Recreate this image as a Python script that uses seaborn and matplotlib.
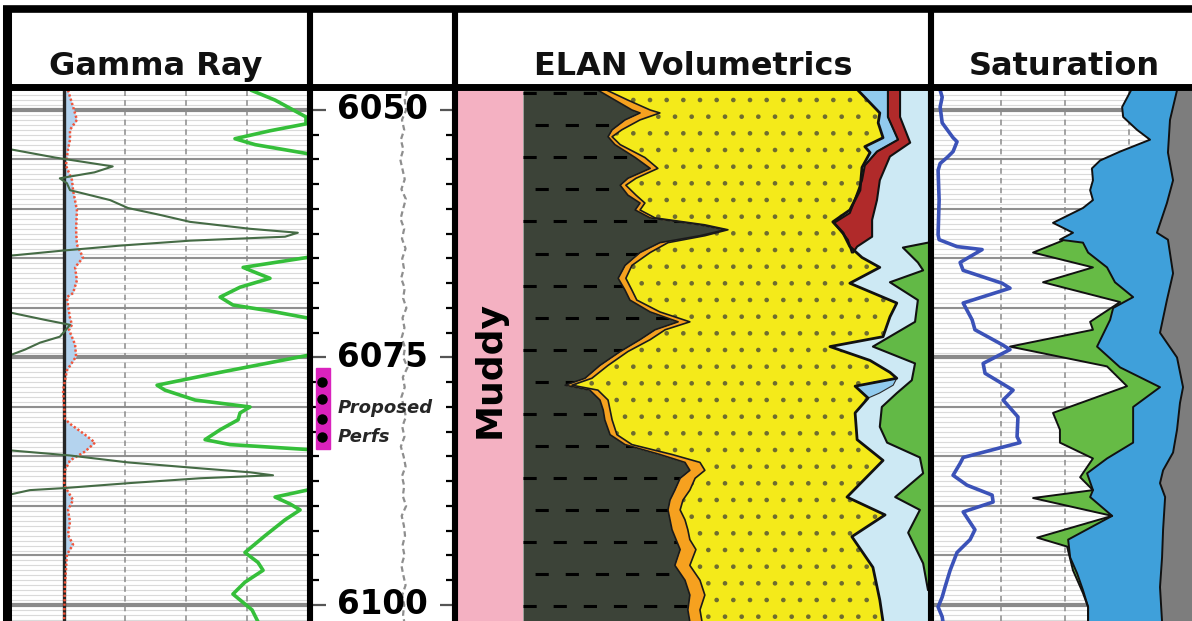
import numpy as np
import matplotlib
matplotlib.use("Agg")
import matplotlib.pyplot as plt
import seaborn as sns

# ------------------------------------------------------------------ data
DEPTH_TOP, DEPTH_BASE = 6047.98, 6101.62
DEPTH_LABELS = [6050, 6075, 6100]
TRACK_TITLES = ["Gamma Ray", "ELAN Volumetrics", "Saturation"]
ZONE_NAME = "Muddy"
PERF_TOP, PERF_BASE = 6076.1, 6084.2
PERF_SHOTS = [6077.5, 6079.2, 6081.2, 6083.0]
PERF_LABEL = ["Proposed", "Perfs"]

# Gamma ray track (API, scale 4-149.5)
gr_depth = [6048.0, 6050.5, 6050.9, 6051.4, 6053.4, 6054.0, 6054.8, 6055.7, 6056.3, 6056.9,
            6057.4, 6058.1, 6059.1, 6059.9, 6060.6, 6061.3, 6062.0, 6062.4, 6062.8, 6063.2,
            6063.7, 6064.2, 6064.7, 6065.2, 6069.9, 6070.5, 6071.2, 6071.7, 6072.2, 6072.9,
            6073.5, 6074.2, 6074.7, 6075.2, 6083.9, 6084.4, 6084.9, 6085.6, 6086.2, 6086.6,
            6086.9, 6087.2, 6087.7, 6088.2, 6088.4, 6088.8, 6089.3, 6101.7]
gr_value = [-10, -10, 4, -10, -10, 4.5, 25.6, 54, 45, 28,
            31.5, 33, 52.7, 61.5, 77.3, 92, 121.5, 145, 138.7, 92,
            57.6, 29.6, 4.5, -10, -10, 4.5, 20.7, 33, 31, 28,
            18.3, 10.9, 4.5, -10, -10, 4.5, 33, 61.5, 97, 121.5,
            132.8, 97, 61.5, 29.6, 13.3, 4.5, -10, -10]

gr2_depth = [6048.0, 6049.0, 6050.7, 6051.4, 6052.1, 6052.9, 6053.5, 6054.4, 6055.1, 6064.1,
             6064.9, 6065.9, 6066.4, 6067.0, 6067.9, 6068.9, 6069.7, 6070.3, 6071.0, 6071.7,
             6074.2, 6074.8, 6076.5, 6077.8, 6078.3, 6079.3, 6080.0, 6080.6, 6081.3, 6082.3,
             6083.3, 6083.8, 6084.3, 6084.9, 6087.8, 6088.4, 6089.1, 6089.8, 6090.4, 6091.4,
             6093.0, 6094.7, 6095.7, 6096.5, 6097.7, 6098.9, 6100.5, 6101.7]
gr2_value = [122, 133.8, 149, 149, 131.3, 114.1, 124, 149.5, 165, 165,
             149.5, 118.1, 124, 131.3, 116.6, 106.8, 113.1, 131.3, 149.5, 165,
             165, 149.5, 106.8, 75.8, 79.7, 94.5, 121.5, 116.6, 115.6, 106.8,
             99.4, 111.7, 150, 165, 165, 149.5, 133.8, 141.2, 146.1, 138.7,
             128.9, 119, 125.4, 127.9, 119, 113.1, 122.5, 125.4]

pe_depth = [6048.0, 6049.0, 6050.0, 6051.0, 6052.0, 6053.0, 6054.0, 6055.6, 6057.1, 6058.1,
            6060.1, 6062.1, 6063.6, 6064.9, 6065.9, 6067.2, 6068.5, 6068.9, 6069.7, 6071.0,
            6071.7, 6072.2, 6073.7, 6074.9, 6076.3, 6078.3, 6081.2, 6081.7, 6082.8, 6083.6,
            6084.5, 6085.4, 6086.4, 6087.9, 6089.4, 6090.4, 6091.6, 6092.9, 6093.9, 6094.9,
            6096.5, 6098.0, 6101.7]
pe_value = [32, 33.5, 35, 36.4, 33, 33, 32, 31, 34, 34.5,
            36.4, 36, 36.4, 39.4, 35.5, 36.4, 34.5, 31.5, 32, 33,
            34, 32.5, 35.5, 36, 31.5, 29.6, 30.5, 33, 40.4, 45.3,
            40.4, 33, 30.5, 30.1, 34.5, 32, 33, 32, 34.5, 31.5,
            31, 30.5, 30.1]
PE_BASE = 30

# depth track caliper-like curve (in), 1 ft samples 6048-6102
cal_depth = list(range(6048, 6103))
cal_value = [9.38, 9.30, 9.35, 9.20, 9.28, 9.16, 9.25, 9.14, 9.22, 9.30, 9.18, 9.34, 9.24, 9.15,
             9.28, 9.20, 9.33, 9.21, 9.27, 9.17, 9.30, 9.24, 9.36, 9.22, 9.29, 9.19, 9.31, 9.25,
             9.40, 9.23, 9.30, 9.18, 9.27, 9.34, 9.21, 9.29, 9.16, 9.26, 9.33, 9.20, 9.28, 9.23,
             9.35, 9.19, 9.27, 9.31, 9.22, 9.29, 9.18, 9.25, 9.33, 9.21, 9.28, 9.24, 9.30]

# ELAN volumetrics (cumulative fraction)
elan_depth = [6048.0, 6049.0, 6050.0, 6050.3, 6051.0, 6052.0, 6052.7, 6053.5, 6054.8, 6055.9,
              6056.9, 6057.6, 6058.6, 6059.4, 6060.1, 6060.9, 6061.6, 6062.1, 6062.7, 6063.4,
              6064.4, 6065.7, 6067.0, 6068.2, 6069.2, 6070.4, 6071.4, 6072.2, 6073.2, 6074.4,
              6075.8, 6077.1, 6077.8, 6078.3, 6079.3, 6080.3, 6081.3, 6082.8, 6083.8, 6084.8,
              6085.6, 6086.4, 6087.2, 6088.4, 6089.4, 6090.4, 6091.4, 6092.4, 6093.4, 6094.4,
              6096.0, 6097.5, 6099.0, 6100.5, 6101.7]
vsh_cum = [0.185, 0.227, 0.269, 0.289, 0.252, 0.220, 0.210, 0.227, 0.277, 0.314,
           0.259, 0.240, 0.259, 0.289, 0.277, 0.314, 0.437, 0.499, 0.437, 0.338,
           0.289, 0.252, 0.235, 0.252, 0.264, 0.314, 0.383, 0.326, 0.289, 0.240,
           0.190, 0.153, 0.104, 0.165, 0.190, 0.198, 0.202, 0.215, 0.252, 0.338,
           0.400, 0.412, 0.388, 0.375, 0.363, 0.358, 0.363, 0.368, 0.378, 0.388,
           0.375, 0.400, 0.412, 0.407, 0.412]
vcal_cum = [0.207, 0.259, 0.314, 0.338, 0.289, 0.244, 0.220, 0.240, 0.301, 0.333,
            0.279, 0.254, 0.279, 0.301, 0.289, 0.326, 0.449, 0.506, 0.449, 0.358,
            0.314, 0.269, 0.254, 0.269, 0.281, 0.338, 0.412, 0.351, 0.314, 0.259,
            0.210, 0.170, 0.121, 0.185, 0.210, 0.215, 0.220, 0.232, 0.269, 0.368,
            0.437, 0.449, 0.425, 0.412, 0.395, 0.388, 0.400, 0.407, 0.412, 0.427,
            0.412, 0.437, 0.449, 0.437, 0.442]

quartz_depth = [6048.0, 6050.3, 6051.3, 6052.8, 6053.7, 6054.3, 6055.8, 6058.1, 6060.1, 6061.3,
                6062.4, 6063.8, 6064.9, 6065.9, 6067.5, 6069.5, 6070.9, 6072.9, 6073.9, 6075.3,
                6076.5, 6077.1, 6077.9, 6079.1, 6080.6, 6083.3, 6085.4, 6089.1, 6090.9, 6093.1,
                6096.2, 6099.5, 6101.7]
quartz_cum = [0.827, 0.881, 0.877, 0.889, 0.844, 0.857, 0.837, 0.832, 0.807, 0.765,
              0.790, 0.807, 0.837, 0.881, 0.807, 0.923, 0.906, 0.889, 0.758, 0.857,
              0.906, 0.923, 0.820, 0.852, 0.820, 0.825, 0.889, 0.800, 0.894, 0.812,
              0.864, 0.881, 0.889]

gas_depth = [6048.0, 6050.7, 6053.0, 6054.2, 6055.6]
gas_cum = [0.901, 0.901, 0.926, 0.874, 0.844]
gas2_depth = [6077.1, 6077.8, 6078.6, 6079.1]
gas2_cum = [0.923, 0.914, 0.880, 0.852]

oil_top_depth = [6048.0, 6050.7, 6053.0, 6054.2, 6055.6, 6057.1, 6060.4, 6061.4, 6063.1, 6064.4]
oil_top_cum = [0.901, 0.901, 0.926, 0.874, 0.844, 0.837, 0.807, 0.768, 0.802, 0.812]
oil_base_depth = [6048.0, 6050.7, 6053.3, 6054.7, 6057.1, 6059.1, 6061.1, 6062.8, 6063.8, 6064.4]
oil_base_cum = [0.931, 0.931, 0.956, 0.906, 0.881, 0.874, 0.862, 0.862, 0.825, 0.815]

hc_depth = [6063.4, 6063.9, 6065.4, 6066.2, 6067.4, 6069.2, 6071.4, 6073.9, 6075.6, 6077.3,
            6078.6, 6080.0, 6082.0, 6083.6, 6085.1, 6086.7, 6089.1, 6090.4, 6092.7, 6095.8,
            6098.5]
hc_cum = [1.0, 0.938, 0.975, 0.988, 0.906, 0.975, 0.968, 0.864, 0.968, 0.960,
          0.923, 0.886, 0.881, 0.899, 0.980, 0.988, 0.919, 0.980, 0.951, 0.988,
          1.0]

# Saturation track
sw_depth = [6048.0, 6048.7, 6049.7, 6051.3, 6052.8, 6053.2, 6054.2, 6054.8, 6055.4, 6056.1,
            6059.1, 6062.6, 6063.1, 6063.8, 6064.1, 6065.4, 6066.2, 6067.5, 6068.0, 6069.5,
            6071.2, 6072.2, 6073.7, 6074.2, 6075.6, 6076.6, 6078.3, 6079.3, 6081.0, 6083.0,
            6083.6, 6085.1, 6085.7, 6086.9, 6087.9, 6088.9, 6089.6, 6090.6, 6092.4, 6093.4,
            6094.7, 6096.5, 6098.2, 6099.2, 6100.2, 6101.2, 6101.7]
sw_value = [0.012, 0.020, 0.012, 0.020, 0.0625, 0.078, 0.0625, 0.039, 0.012, 0.004,
            0.008, 0.004, 0.008, 0.078, 0.176, 0.090, 0.102, 0.254, 0.285, 0.102,
            0.137, 0.148, 0.254, 0.285, 0.180, 0.1875, 0.297, 0.258, 0.316, 0.3125,
            0.324, 0.102, 0.090, 0.0625, 0.117, 0.215, 0.219, 0.102, 0.148, 0.129,
            0.078, 0.051, 0.031, 0.020, 0.004, 0.020, 0.023]

sat_a_depth = [6063.2, 6064.4, 6065.9, 6067.4, 6069.4, 6071.4, 6072.2, 6073.9, 6075.9, 6077.9,
               6080.6, 6082.3, 6083.6, 6085.2, 6087.1, 6088.4, 6089.2, 6091.0, 6093.2, 6094.1,
               6096.5, 6098.8, 6100.2, 6101.7]
sat_a = [0.49, 0.375, 0.609, 0.414, 0.715, 0.598, 0.609, 0.285, 0.664, 0.742,
         0.453, 0.480, 0.480, 0.609, 0.559, 0.609, 0.375, 0.684, 0.391, 0.508,
         0.531, 0.570, 0.590, 0.590]
sat_b_depth = [6048.0, 6049.7, 6050.7, 6052.0, 6053.0, 6054.2, 6055.1, 6055.9, 6057.1, 6058.1,
               6059.1, 6059.9, 6061.4, 6062.4, 6063.1, 6063.4, 6064.4, 6065.9, 6067.4, 6068.9,
               6070.0, 6071.2, 6073.9, 6076.0, 6078.0, 6080.0, 6083.6, 6085.2, 6086.7, 6088.4,
               6089.1, 6091.0, 6093.4, 6095.2, 6096.8, 6098.5, 6100.2, 6101.7]
sat_b = [0.758, 0.723, 0.727, 0.781, 0.832, 0.715, 0.637, 0.605, 0.609, 0.598,
         0.609, 0.570, 0.453, 0.531, 0.480, 0.570, 0.590, 0.664, 0.695, 0.766,
         0.688, 0.676, 0.625, 0.715, 0.871, 0.766, 0.766, 0.664, 0.586, 0.609,
         0.598, 0.684, 0.512, 0.520, 0.547, 0.570, 0.590, 0.590]
sat_c_depth = [6048.0, 6051.0, 6054.3, 6057.1, 6059.4, 6062.4, 6063.1, 6066.5, 6069.2, 6072.5,
               6075.0, 6078.0, 6079.6, 6082.3, 6084.6, 6086.4, 6087.7, 6089.1, 6092.4, 6095.2,
               6098.2, 6101.7]
sat_c = [0.9375, 0.910, 0.902, 0.922, 0.898, 0.859, 0.902, 0.922, 0.898, 0.871,
         0.9375, 0.961, 0.949, 0.9375, 0.922, 0.883, 0.871, 0.891, 0.883, 0.879,
         0.871, 0.879]

# ------------------------------------------------------------------ style
sns.set_style("white")
plt.rcParams["font.family"] = ["DejaVu Sans"]
plt.rcParams["lines.scale_dashes"] = False
plt.rcParams["hatch.linewidth"] = 0.9

W, H = 1192, 621
fig = plt.figure(figsize=(W / 100, H / 100), dpi=100)

DATA_Y0, DATA_Y1 = 90, 621


def track(x0, x1):
    ax = fig.add_axes([x0 / W, 1 - DATA_Y1 / H, (x1 - x0) / W, (DATA_Y1 - DATA_Y0) / H])
    ax.set_ylim(DEPTH_BASE, DEPTH_TOP)
    for s in ax.spines.values():
        s.set_visible(False)
    ax.set_xticks([])
    ax.set_yticks([])
    return ax


def depth_grid(ax):
    t = ax.get_yaxis_transform()
    ax.hlines(np.arange(6048, 6102, 0.5), 0, 1, transform=t, colors="#dadada", lw=0.8, zorder=0.5)
    ax.hlines(np.arange(6050, 6102, 5), 0, 1, transform=t, colors="#909090", lw=1.5, zorder=0.6)
    ax.hlines(DEPTH_LABELS, 0, 1, transform=t, colors="#8a8a8a", lw=3.0, zorder=0.7)


def curve(ax, x, d, **kw):
    sns.lineplot(x=np.asarray(x), y=np.asarray(d), orient="y", sort=False, estimator=None,
                 ax=ax, legend=False, **kw)
    ax.set_xlabel("")
    ax.set_ylabel("")


def poly(ax, xa, da, xb, db, **kw):
    """Polygon running down curve a and back up curve b."""
    xs = np.r_[np.asarray(xa, float), np.asarray(xb, float)[::-1]]
    ys = np.r_[np.asarray(da, float), np.asarray(db, float)[::-1]]
    return ax.fill(xs, ys, **kw)[0]


def poly_right(ax, xa, da, edge, **kw):
    """Polygon between curve a and a vertical edge at x=edge."""
    return poly(ax, xa, da, [edge, edge], [da[0], da[-1]], **kw)


# ---------------- Gamma ray track
ax_gr = track(11, 307)
depth_grid(ax_gr)
ax_gr.vlines([60, 90, 120], 0, 1, transform=ax_gr.get_xaxis_transform(), colors="#8a8a8a",
             lw=1.1, linestyles=(0, (4, 3)), zorder=0.8)
ax_gr.fill_betweenx(pe_depth, PE_BASE, pe_value, color="#b4d3ee", lw=0, zorder=1)
ax_gr.axvline(PE_BASE, color="#262626", lw=2.4, zorder=2)
curve(ax_gr, pe_value, pe_depth, color="#f2553a", lw=1.8, linestyle=(0, (1.6, 1.6)), zorder=3)
curve(ax_gr, gr_value, gr_depth, color="#456b45", lw=1.5, zorder=3)
curve(ax_gr, gr2_value, gr2_depth, color="#35bf3a", lw=2.6, zorder=3)
ax_gr.set_xlim(4, 149.5)
ax_gr.set_ylim(DEPTH_BASE, DEPTH_TOP)

# ---------------- Depth track
ax_dp = track(313, 452)
curve(ax_dp, cal_value, cal_depth, color="#8e8e8e", lw=1.6, linestyle=(0, (4, 2.5)), zorder=2)
ax_dp.set_xlim(6, 11)
ax_dp.set_ylim(DEPTH_BASE, DEPTH_TOP)
ax_dp.set_yticks(DEPTH_LABELS)
ax_dp.set_yticks(np.arange(6050, 6101, 2.5), minor=True)
ax_dp.tick_params(axis="y", which="major", direction="in", length=9, width=1.6, color="#555555",
                  left=True, right=True, labelleft=False)
ax_dp.tick_params(axis="y", which="minor", direction="in", length=4.5, width=1.6, color="black",
                  left=True, right=True)
for d in DEPTH_LABELS:
    ax_dp.text(0.5, d, str(d), transform=ax_dp.get_yaxis_transform(), ha="center",
               va="center", fontsize=23.5, fontweight="heavy", color="black", zorder=3)
ax_dp.add_patch(plt.Rectangle((0.022, PERF_TOP), 0.10, PERF_BASE - PERF_TOP,
                              transform=ax_dp.get_yaxis_transform(), color="#da22bd", zorder=3))
ax_dp.plot([0.065] * len(PERF_SHOTS), PERF_SHOTS, "o", color="black", ms=6.5,
           transform=ax_dp.get_yaxis_transform(), zorder=4)
ax_dp.text(0.18, 6080.1, PERF_LABEL[0], transform=ax_dp.get_yaxis_transform(), ha="left",
           va="center", fontsize=13, fontweight="bold", fontstyle="italic", zorder=4)
ax_dp.text(0.18, 6083.0, PERF_LABEL[1], transform=ax_dp.get_yaxis_transform(), ha="left",
           va="center", fontsize=13, fontweight="bold", fontstyle="italic", zorder=4)

# ---------------- Zone track
ax_zn = track(457, 523)
ax_zn.set_facecolor("#f4b1c2")
ax_zn.set_xlim(0, 1)
ax_zn.text(0.5, 6076.2, ZONE_NAME, rotation=90, ha="center", va="center", fontsize=26,
           fontweight="bold", color="black")

# ---------------- ELAN track
ax_el = track(523, 928)
ax_el.set_xlim(0, 1)
ax_el.fill_betweenx(elan_depth, 0, vsh_cum, color="#3c4338", lw=0, zorder=1)
sh_poly = poly(ax_el, [0] * len(elan_depth), elan_depth, vsh_cum, elan_depth,
               facecolor="none", edgecolor="none")
for i, d in enumerate(np.arange(6048.3, 6102, 3.24)):
    ln, = ax_el.plot([0, 1], [d, d], color="black", lw=2.2,
                     linestyle=(0 if i % 2 == 0 else 13, (9.5, 12.2)), zorder=1.5)
    ln.set_clip_path(sh_poly)
ax_el.fill_betweenx(elan_depth, vsh_cum, vcal_cum, color="#f6a11f", lw=0, zorder=1)
poly(ax_el, vcal_cum, elan_depth, quartz_cum, quartz_depth, facecolor="#f4ea1a",
     edgecolor="#6e6c30", lw=0, hatch=".", zorder=1)
poly_right(ax_el, quartz_cum, quartz_depth, 1.0, facecolor="#cde9f4", lw=0, zorder=1)
poly(ax_el, quartz_cum[:7], quartz_depth[:7], gas_cum, gas_depth, facecolor="#91cbee",
     lw=0, zorder=1.2)
poly(ax_el, quartz_cum[21:24], quartz_depth[21:24], gas2_cum, gas2_depth,
     facecolor="#91cbee", edgecolor="#2a2a2a", lw=0.8, zorder=1.2)
poly(ax_el, oil_top_cum, oil_top_depth, oil_base_cum, oil_base_depth, facecolor="#b02a2a",
     lw=0, zorder=1.3)
poly_right(ax_el, hc_cum, hc_depth, 1.0, facecolor="#62b946", lw=0, zorder=1.3)
curve(ax_el, vsh_cum, elan_depth, color="#1a1a1a", lw=1.2, zorder=3)
curve(ax_el, vcal_cum, elan_depth, color="#1a1a1a", lw=1.2, zorder=3)
curve(ax_el, quartz_cum, quartz_depth, color="#111111", lw=2.0, zorder=3)
curve(ax_el, gas_cum, gas_depth, color="#222222", lw=1.0, zorder=3)
curve(ax_el, oil_top_cum, oil_top_depth, color="#111111", lw=1.5, zorder=3)
curve(ax_el, oil_base_cum, oil_base_depth, color="#111111", lw=1.5, zorder=3)
curve(ax_el, hc_cum, hc_depth, color="#111111", lw=1.5, zorder=3)
ax_el.set_xlim(0, 1)
ax_el.set_ylim(DEPTH_BASE, DEPTH_TOP)

# ---------------- Saturation track
ax_sw = track(934, 1192)
depth_grid(ax_sw)
ax_sw.vlines([0.25, 0.5, 0.75], 0, 1, transform=ax_sw.get_xaxis_transform(), colors="#8a8a8a",
             lw=1.1, linestyles=(0, (4, 3)), zorder=0.8)
sb_d = np.asarray(sat_b_depth)
sb_v = np.asarray(sat_b)
m = sb_d >= sat_a_depth[0]
poly(ax_sw, sat_a, sat_a_depth, sb_v[m], sb_d[m], facecolor="#66bb45", lw=0, zorder=1)
poly(ax_sw, sat_b, sat_b_depth, sat_c, sat_c_depth, facecolor="#3fa0da", lw=0, zorder=1)
poly_right(ax_sw, sat_c, sat_c_depth, 1.2, facecolor="#7d7d7d", lw=0, zorder=1)
curve(ax_sw, sat_a, sat_a_depth, color="#111111", lw=1.4, zorder=3)
curve(ax_sw, sat_b, sat_b_depth, color="#111111", lw=1.4, zorder=3)
curve(ax_sw, sat_c, sat_c_depth, color="#111111", lw=1.4, zorder=3)
curve(ax_sw, sw_value, sw_depth, color="#3b52b8", lw=2.6, zorder=3)
ax_sw.set_xlim(-0.012, 0.996)
ax_sw.set_ylim(DEPTH_BASE, DEPTH_TOP)

# ---------------- frame / header overlay
ov = fig.add_axes([0, 0, 1, 1])
ov.set_xlim(0, W)
ov.set_ylim(H, 0)
ov.axis("off")
ov.patch.set_visible(False)
ov.set_zorder(10)
ov.plot([3, W], [9, 9], color="black", lw=5.5, solid_capstyle="butt")
ov.plot([3, W], [86.5, 86.5], color="black", lw=5.0, solid_capstyle="butt")
ov.plot([7, 7], [6, H], color="black", lw=6.5, solid_capstyle="butt")
for xs in (310, 455, 931):
    ov.plot([xs, xs], [6, H], color="black", lw=4.4, solid_capstyle="butt")
for title, xc in zip(TRACK_TITLES, (156, 693, 1064)):
    ov.text(xc, 75, title, ha="center", va="baseline", fontsize=23, fontweight="bold",
            color="#111111")

fig.savefig("out.png", dpi=100)
